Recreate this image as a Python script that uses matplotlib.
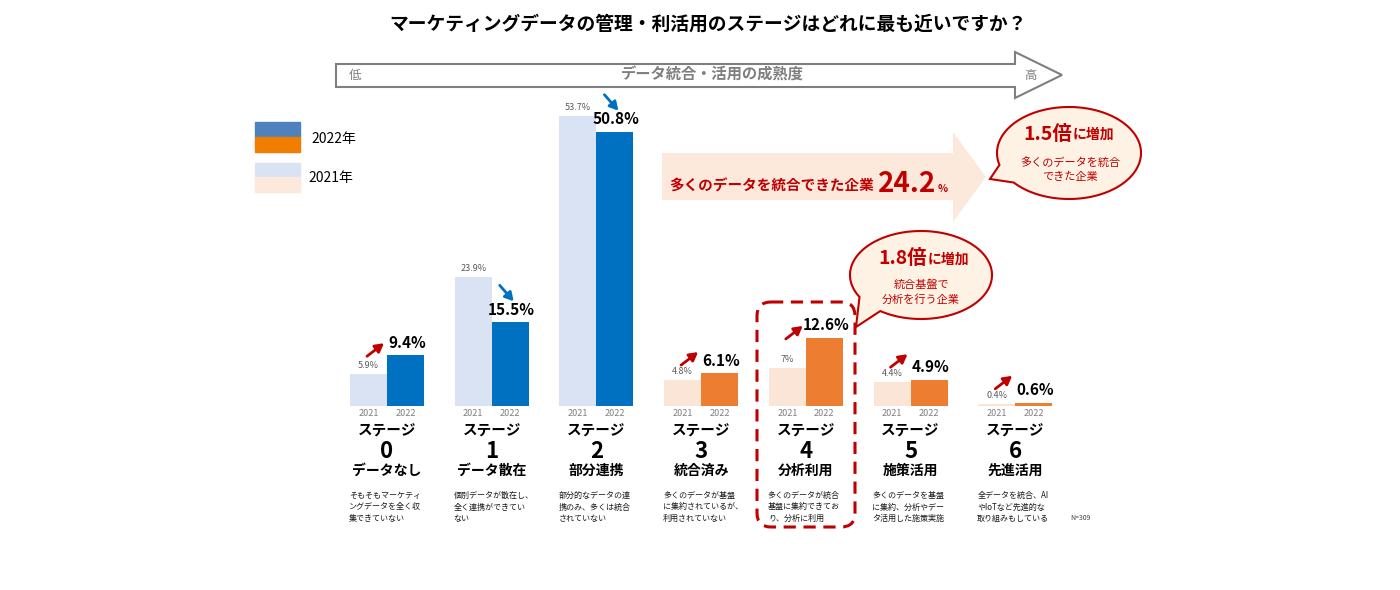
import matplotlib.pyplot as plt
import matplotlib.transforms as mtransforms
from matplotlib.patches import Rectangle, Polygon, FancyBboxPatch
import numpy as np

plt.rcParams['font.family'] = ['Noto Sans CJK JP', 'DejaVu Sans']

#%% data
stages = ['0', '1', '2', '3', '4', '5', '6']
stage_names = ['データなし', 'データ散在', '部分連携', '統合済み', '分析利用', '施策活用', '先進活用']
descriptions = [
    'そもそもマーケティ\nングデータを全く収\n集できていない',
    '個別データが散在し、\n全く連携ができてい\nない',
    '部分的なデータの連\n携のみ、多くは統合\nされていない',
    '多くのデータが基盤\nに集約されているが、\n利用されていない',
    '多くのデータが統合\n基盤に集約できてお\nり、分析に利用',
    '多くのデータを基盤\nに集約、分析やデー\nタ活用した施策実施',
    '全データを統合、AI\nやIoTなど先進的な\n取り組みもしている',
]
values_2021 = [5.9, 23.9, 53.7, 4.8, 7.0, 4.4, 0.4]
values_2022 = [9.4, 15.5, 50.8, 6.1, 12.6, 4.9, 0.6]
labels_2021 = ['5.9%', '23.9%', '53.7%', '4.8%', '7%', '4.4%', '0.4%']
labels_2022 = ['9.4%', '15.5%', '50.8%', '6.1%', '12.6%', '4.9%', '0.6%']
years = ['2021', '2022']

RED = '#c00000'
BLUE = '#0070c0'
ORANGE = '#ed7d31'
LIGHT_BLUE = '#dae3f3'
LIGHT_ORANGE = '#fbe5d6'
GRAY = '#7f7f7f'

W, H = 1400, 590
fig = plt.figure(figsize=(14, 5.9), dpi=100)

# bar axes (pixel layout)
group_px = 104.7
x0_px = 387 - group_px / 2
base_px = 406
ymax = 60
unit_px = 5.4
ax = fig.add_axes([x0_px / W, (H - base_px) / H, group_px * 7 / W, unit_px * ymax / H])
ax.set_xlim(-0.5, 6.5)
ax.set_ylim(0, ymax)
ax.axis('off')

# overlay in pixel coords
ov = fig.add_axes([0, 0, 1, 1], zorder=3)
ov.set_xlim(0, W)
ov.set_ylim(H, 0)
ov.axis('off')
ov.patch.set_alpha(0)

bw = 37 / group_px
x = np.arange(len(stages))
c22 = [BLUE if i < 3 else ORANGE for i in x]
c21 = [LIGHT_BLUE if i < 3 else LIGHT_ORANGE for i in x]
ax.bar(x - bw / 2, values_2021, bw, color=c21)
ax.bar(x + bw / 2, values_2022, bw, color=c22)

def px2u(p):
    return p / unit_px

def px2x(p):
    return p / group_px

arrow_style = '-|>,head_length=0.5,head_width=0.28'
for i in x:
    ax.annotate(labels_2021[i], (i - bw / 2, values_2021[i]), xytext=(0, 6), textcoords='offset points',
                ha='center', va='center', fontsize=6.5, color='#595959')
    ax.annotate(labels_2022[i], (i + bw / 2, values_2022[i]), xytext=(1, 9), textcoords='offset points',
                ha='center', va='center', fontsize=11, fontweight='bold', color='black')
    if values_2022[i] >= values_2021[i]:
        hy = max(values_2022[i] + px2u(12), values_2021[i] + px2u(28))
        ax.annotate('', xy=(i - px2x(3), hy), xytext=(i - px2x(20), hy - px2u(13)),
                    arrowprops=dict(arrowstyle=arrow_style, lw=2, color=RED, shrinkA=0, shrinkB=0))
    else:
        hy = values_2022[i] + px2u(21)
        ax.annotate('', xy=(i + px2x(22), hy), xytext=(i + px2x(8), hy + px2u(16)),
                    arrowprops=dict(arrowstyle=arrow_style, lw=2, color=BLUE, shrinkA=0, shrinkB=0))

# text under bars: x from bar axes, y in pixels
tr = mtransforms.blended_transform_factory(ax.transData, ov.transData)
for i in x:
    ov.text(i - bw / 2, 413, years[0], transform=tr, ha='center', va='center', fontsize=6.5, color=GRAY)
    ov.text(i + bw / 2, 413, years[1], transform=tr, ha='center', va='center', fontsize=6.5, color=GRAY)
    ov.text(i, 431, 'ステージ', transform=tr, ha='center', va='center', fontsize=10.5, fontweight='bold')
    ov.text(i, 451, stages[i], transform=tr, ha='center', va='center', fontsize=16, fontweight='bold')
    ov.text(i, 471, stage_names[i], transform=tr, ha='center', va='center', fontsize=10, fontweight='bold')
    ov.text(i - bw - px2x(1), 491, descriptions[i], transform=tr, ha='left', va='top', fontsize=5.8,
            linespacing=1.35, color='#1a1a1a')

# title
ov.text(708, 24, 'マーケティングデータの管理・利活用のステージはどれに最も近いですか？',
        ha='center', va='center', fontsize=13.5, fontweight='bold')

# maturity arrow
ov.add_patch(Polygon([(336, 64), (1015, 64), (1015, 52), (1062, 75), (1015, 98), (1015, 87), (336, 87)],
                     closed=True, facecolor='white', edgecolor=GRAY, lw=1.5))
ov.text(355, 76, '低', ha='center', va='center', fontsize=9, color=GRAY)
ov.text(712, 75, 'データ統合・活用の成熟度', ha='center', va='center', fontsize=11, fontweight='bold', color=GRAY)
ov.text(1030, 76, '高', ha='center', va='center', fontsize=9, color=GRAY)

# legend
ov.add_patch(Rectangle((255, 122), 45, 15, color='#4f81bd'))
ov.add_patch(Rectangle((255, 137), 45, 15, color='#f07c00'))
ov.text(311, 139, '2022年', ha='left', va='center', fontsize=10)
ov.add_patch(Rectangle((255, 163), 45, 14, color=LIGHT_BLUE))
ov.add_patch(Rectangle((255, 177), 45, 15, color='#fde9dc'))
ov.text(308, 178, '2021年', ha='left', va='center', fontsize=10)

# big pink arrow
ov.add_patch(Polygon([(662, 153), (953, 153), (953, 132), (986, 177), (953, 222), (953, 200), (662, 200)],
                     closed=True, facecolor='#fde9dc', edgecolor='none'))
ov.text(669, 186, '多くのデータを統合できた企業', ha='left', va='center', fontsize=10.5,
        fontweight='bold', color=RED)
ov.text(878, 184, '24.2', ha='left', va='center', fontsize=20, fontweight='bold', color=RED)
ov.text(938, 189, '%', ha='left', va='center', fontsize=7.5, fontweight='bold', color=RED)


def bubble(cx, cy, a, b, t1, t2, tip):
    ts = np.radians(np.linspace(t2, t1 + 360, 200))
    pts = list(zip(cx + a * np.cos(ts), cy + b * np.sin(ts)))
    pts.append(tip)
    ov.add_patch(Polygon(pts, closed=True, facecolor='#fef2e4', edgecolor=RED, lw=1.5))


bubble(1069, 153, 72, 46, 140, 165, (990, 179))
ov.text(1072, 134, '1.5倍', ha='right', va='center', fontsize=14, fontweight='bold', color=RED)
ov.text(1073, 135, 'に増加', ha='left', va='center', fontsize=10, fontweight='bold', color=RED)
ov.text(1070, 162, '多くのデータを統合', ha='center', va='center', fontsize=8, color=RED)
ov.text(1070, 177, 'できた企業', ha='center', va='center', fontsize=8, color=RED)

bubble(921, 275, 71, 44, 125, 150, (856, 327))
ov.text(927, 259, '1.8倍', ha='right', va='center', fontsize=14, fontweight='bold', color=RED)
ov.text(928, 260, 'に増加', ha='left', va='center', fontsize=10, fontweight='bold', color=RED)
ov.text(921, 285, '統合基盤で', ha='center', va='center', fontsize=8, color=RED)
ov.text(921, 300, '分析を行う企業', ha='center', va='center', fontsize=8, color=RED)

# dashed box around stage 4
ov.add_patch(FancyBboxPatch((757, 302), 98, 225, boxstyle='round,pad=0,rounding_size=14',
                            facecolor='none', edgecolor=RED, lw=2.2, linestyle=(0, (4, 2.5))))

ov.text(1070, 518, 'N=309', ha='left', va='center', fontsize=5, color='#404040')

fig.savefig('out.png', dpi=100)
